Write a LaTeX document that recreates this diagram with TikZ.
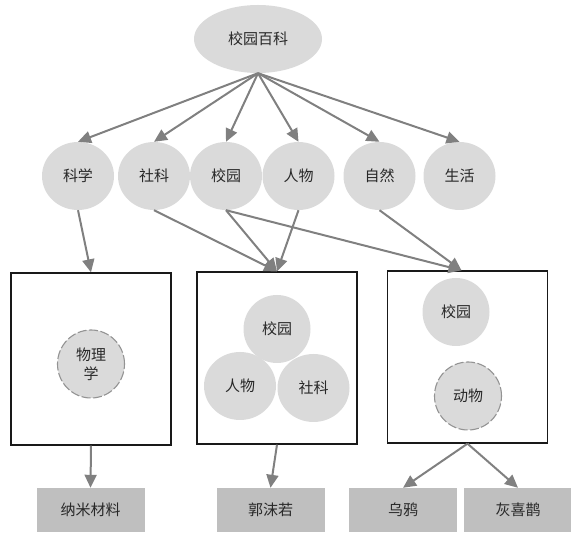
\documentclass[tikz,border=0pt]{standalone}
\usepackage{fontspec}
\newfontfamily\cjk{Noto Sans CJK SC}
\usetikzlibrary{arrows.meta,shapes.geometric,calc}
\definecolor{bubble}{RGB}{218,218,218}
\definecolor{leaf}{RGB}{191,191,191}
\definecolor{linkgray}{RGB}{128,128,128}
\definecolor{ink}{RGB}{40,40,40}
\begin{document}
\begin{tikzpicture}[x=1pt,y=-1pt,
  every node/.style={font=\cjk\fontsize{15}{19}\selectfont, text=ink, inner sep=0pt},
  topic/.style={ellipse, fill=bubble, minimum width=72pt, minimum height=68pt},
  inner/.style={ellipse, fill=bubble, minimum width=67pt, minimum height=68pt},
  dashedtopic/.style={inner, draw=gray!85, dash pattern=on 9pt off 2.5pt, line width=1.1pt},
  frame/.style={rectangle, draw=black!90, line width=1.3pt, minimum width=160pt, minimum height=172pt},
  leafbox/.style={rectangle, fill=leaf, minimum width=108pt, minimum height=44pt},
  link/.style={draw=linkgray, line width=2pt, -{Triangle[length=13pt,width=12pt]}}
]
\useasboundingbox (0,0) rectangle (571,534);

% root
\node[ellipse, fill=bubble, minimum width=128pt, minimum height=68pt] (root) at (258,39) {校园百科};

% categories
\node[topic] (kx) at (78,176) {科学};
\node[topic] (sk) at (154,176) {社科};
\node[topic] (xy) at (226,176) {校园};
\node[topic] (rw) at (298.5,176) {人物};
\node[topic] (zr) at (379.5,176) {自然};
\node[topic] (sh) at (459.5,176) {生活};

% frames
\node[frame] (b1) at (91,359) {};
\node[frame] (b2) at (277,358) {};
\node[frame] (b3) at (467.5,357) {};

% frame contents
\node[dashedtopic, align=center] (wlx) at (91,364) {物理\\学};
\node[inner, minimum width=72pt] (rw2) at (240,386) {人物};
\node[inner, minimum width=72pt] (sk2) at (313.5,388) {社科};
\node[inner] (xy2) at (277,329) {校园};
\node[inner] (xy3) at (456,312) {校园};
\node[dashedtopic] (dw) at (468,396) {动物};

% results
\node[leafbox] (nm) at (90.5,510) {纳米材料};
\node[leafbox] (gmr) at (270.5,510) {郭沫若};
\node[leafbox] (wy) at (403,510) {乌鸦};
\node[leafbox] (hxq) at (518,510) {灰喜鹊};

\coordinate (b3in) at ($(b3.north)+(-6,0)$);

% links
\foreach \t in {kx,sk,xy,rw,zr,sh}
  \draw[link] (root.south) -- (\t.north);
\draw[link] (kx.south) -- (b1.north);
\draw[link] (sk.south) -- (b2.north);
\draw[link] (xy.south) -- (b2.north);
\draw[link] (rw.south) -- (b2.north);
\draw[link] (xy.south) -- (b3in);
\draw[link] (zr.south) -- (b3in);
\draw[link] (b1.south) -- (nm.north);
\draw[link] (b2.south) -- (gmr.north);
\draw[link] (b3.south) -- (wy.north);
\draw[link] (b3.south) -- (hxq.north);
\end{tikzpicture}
\end{document}
